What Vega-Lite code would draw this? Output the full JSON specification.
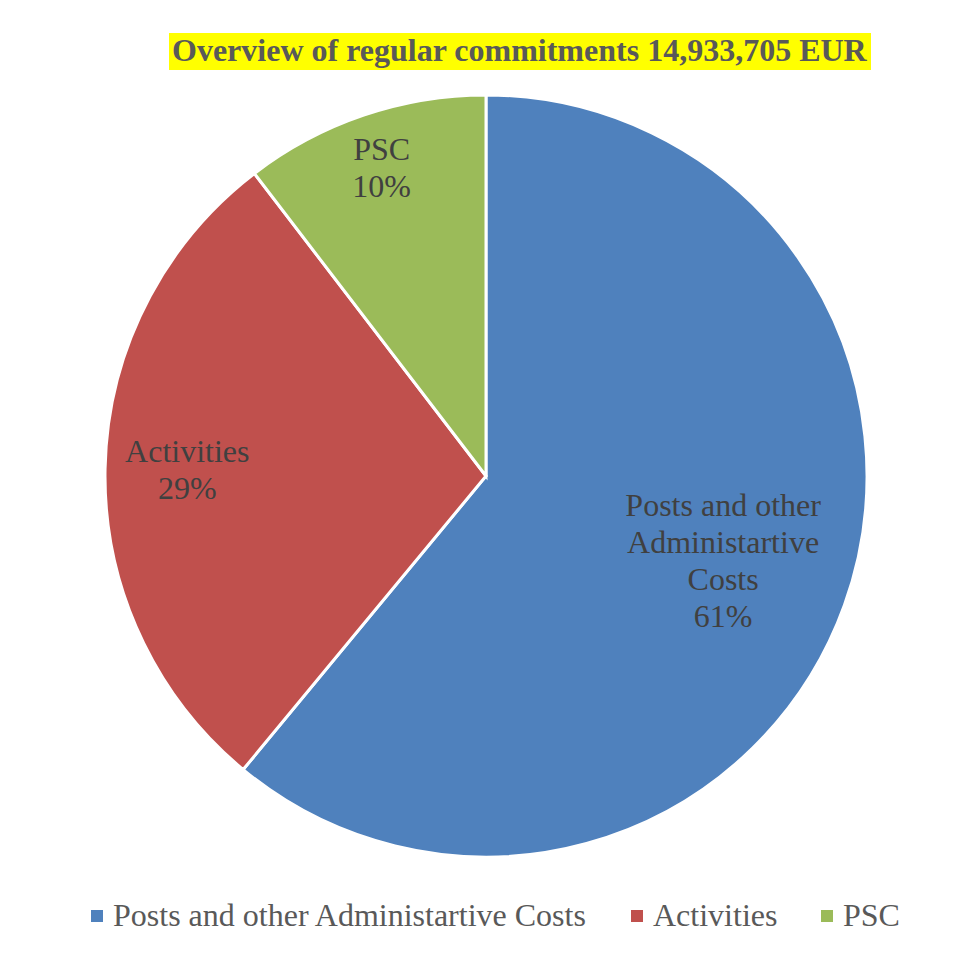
{
  "$schema": "https://vega.github.io/schema/vega-lite/v6.json",
  "autosize": {"type": "fit", "contains": "padding"},
  "width": 974,
  "height": 958,
  "padding": {"left": 1, "top": 2, "right": 3, "bottom": 3},
  "background": "white",
  "config": {
    "view": {"stroke": "#d9d9d9", "strokeWidth": 2},
    "font": "Liberation Serif"
  },
  "data": {
    "values": [
      {"category": "Posts and other Administartive Costs", "amount": 9109560, "label": "Posts and other\nAdministartive\nCosts\n61%"},
      {"category": "Activities", "amount": 4271040, "label": "\nActivities\n29%\n"},
      {"category": "PSC", "amount": 1553105, "label": "\nPSC\n10%\n"}
    ]
  },
  "layer": [
    {
      "mark": {"type": "arc", "outerRadius": 381, "stroke": "white", "strokeWidth": 3, "yOffset": -2.5},
      "encoding": {
        "theta": {"field": "amount", "type": "quantitative", "stack": true},
        "order": {"field": "amount", "type": "quantitative", "sort": "descending"},
        "color": {
          "field": "category",
          "type": "nominal",
          "scale": {
            "domain": ["Posts and other Administartive Costs", "Activities", "PSC"],
            "range": ["#4F81BD", "#C0504D", "#9BBB59"]
          },
          "legend": {
            "orient": "none",
            "direction": "horizontal",
            "legendX": 80,
            "legendY": 898,
            "title": null,
            "symbolType": "square",
            "symbolSize": 144,
            "symbolStrokeWidth": 0,
            "labelFont": "Liberation Serif",
            "labelFontSize": 32,
            "labelColor": "#595959",
            "labelOffset": 0,
            "columnPadding": 33,
            "padding": 0,
            "labelLimit": 1000
          }
        }
      }
    },
    {
      "mark": {"type": "text", "font": "Liberation Serif", "fontSize": 32, "color": "#404040", "lineBreak": "\n", "lineHeight": 37, "align": "center", "baseline": "middle", "yOffset": -58},
      "encoding": {
        "theta": {"field": "amount", "type": "quantitative", "stack": true},
        "order": {"field": "amount", "type": "quantitative", "sort": "descending"},
        "radius": {"field": "amount", "type": "quantitative", "scale": {"type": "linear", "zero": false, "domain": [1553105, 9109560], "range": [325, 252]}},
        "text": {"field": "label", "type": "nominal"}
      }
    },
    {
      "mark": {"type": "text", "text": ""},
      "encoding": {
        "opacity": {
          "datum": "title",
          "type": "nominal",
          "scale": {"range": [1]},
          "legend": {
            "orient": "none",
            "legendX": 168,
            "legendY": 31,
            "values": [],
            "title": "Overview of regular commitments 14,933,705 EUR",
            "titleFont": "Liberation Serif",
            "titleFontSize": 32,
            "titleFontWeight": "bold",
            "titleColor": "#595959",
            "titleLimit": 2000,
            "titlePadding": 0,
            "fillColor": "#FFFF00",
            "padding": 3
          }
        }
      }
    }
  ]
}
